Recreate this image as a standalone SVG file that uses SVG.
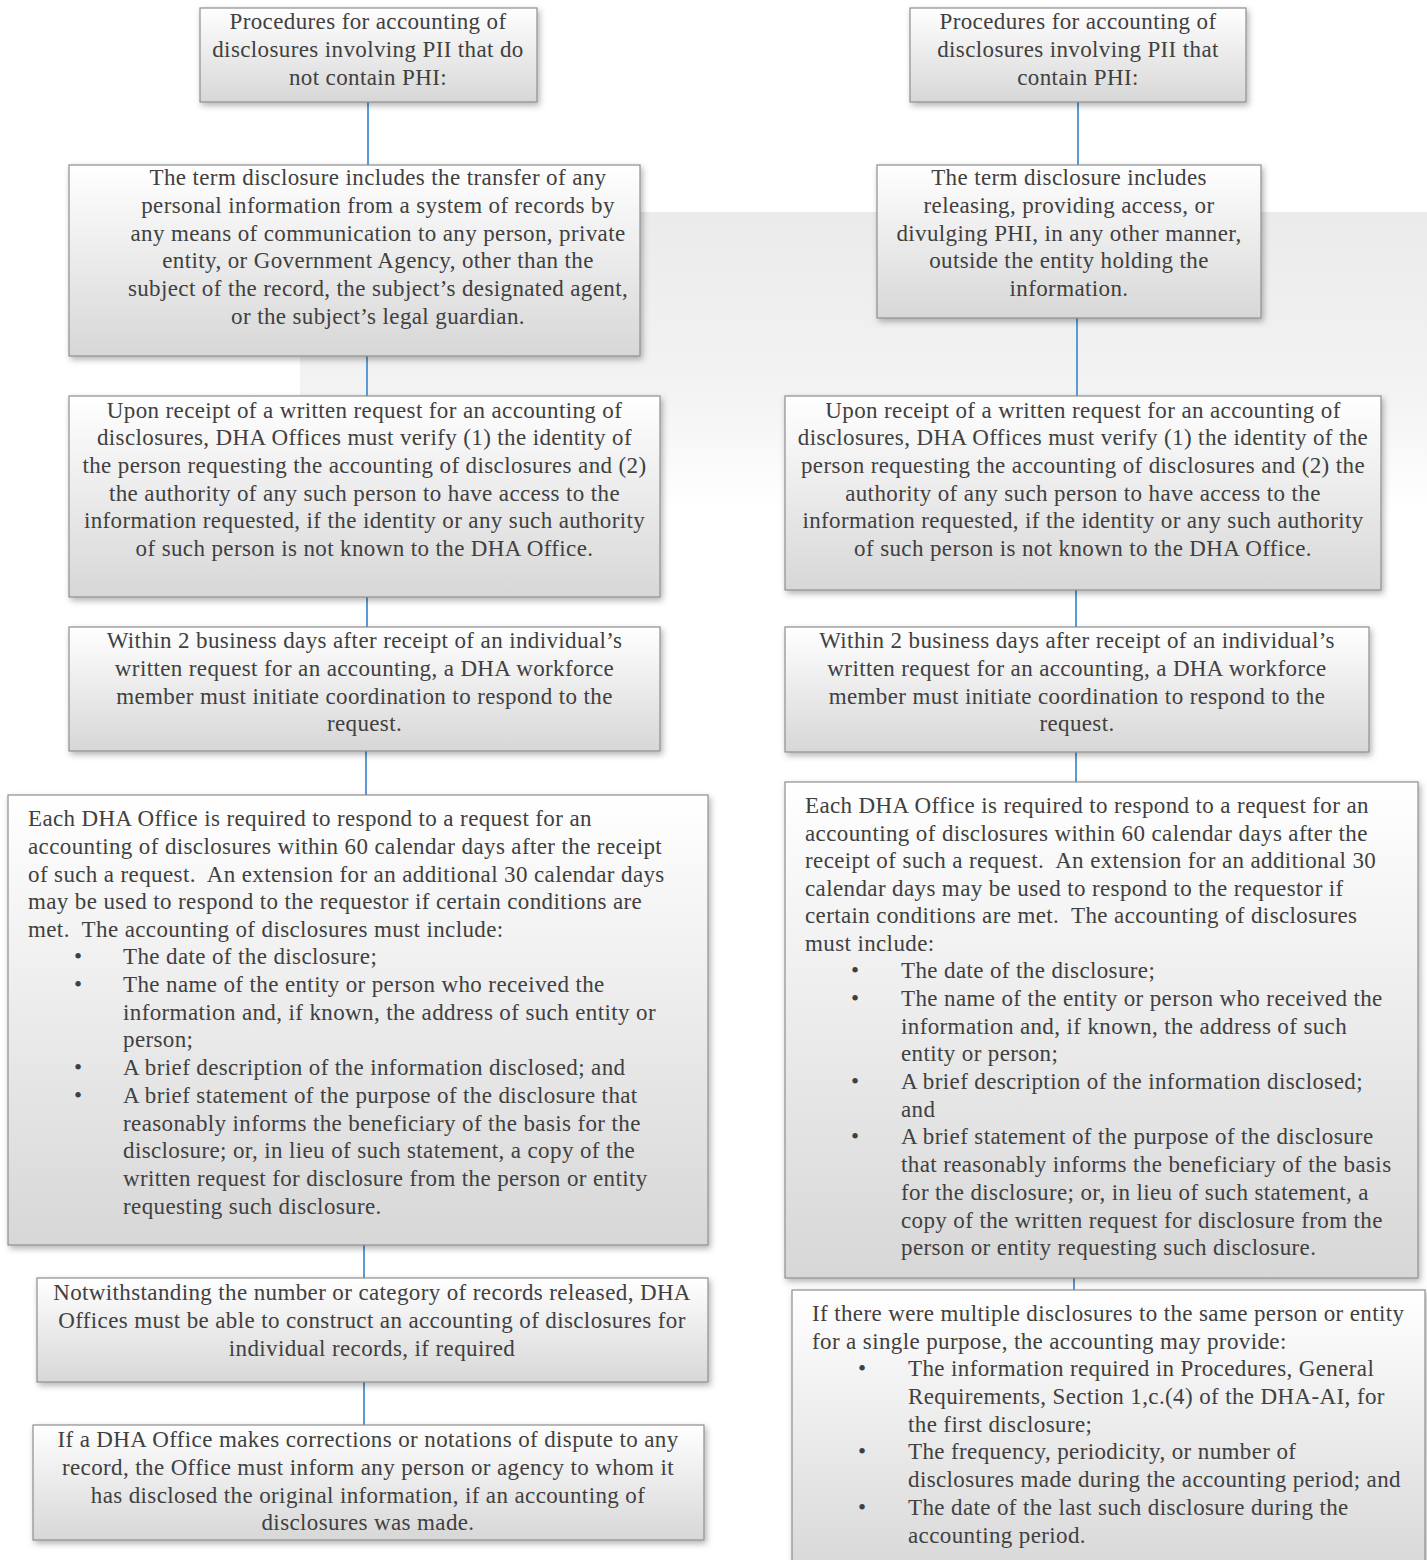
<svg xmlns="http://www.w3.org/2000/svg" width="1427" height="1560" viewBox="0 0 1427 1560">
<style>
.box{fill:url(#g);stroke:#8e8e8e;stroke-width:1.2;filter:url(#sh)}
.t{font-family:"Liberation Serif","Times New Roman",serif;font-size:23px;letter-spacing:0.38px;fill:#404040;white-space:pre}
.c{text-anchor:middle}
.ln{stroke:#5b9bd5;stroke-width:2;fill:none}
</style>
<defs>
<linearGradient id="g" x1="0" y1="0" x2="0" y2="1">
<stop offset="0" stop-color="#ffffff"/>
<stop offset="1" stop-color="#d7d7d7"/>
</linearGradient>
<linearGradient id="bg" x1="0" y1="0" x2="0" y2="1">
<stop offset="0" stop-color="#ebebeb"/>
<stop offset="0.6" stop-color="#f3f3f3"/>
<stop offset="1" stop-color="#ffffff"/>
</linearGradient>
<filter id="sh" x="-5%" y="-5%" width="115%" height="120%">
<feDropShadow dx="2" dy="3" stdDeviation="3" flood-color="#000" flood-opacity="0.3"/>
</filter>
</defs>
<rect x="0" y="0" width="1427" height="1560" fill="#ffffff"/>
<rect x="300" y="212" width="1127" height="300" fill="url(#bg)"/>

<g id="connectors">
<line class="ln" x1="368" y1="102" x2="368" y2="165"/>
<line class="ln" x1="367" y1="356" x2="367" y2="396"/>
<line class="ln" x1="367" y1="597" x2="367" y2="627"/>
<line class="ln" x1="366" y1="751" x2="366" y2="795"/>
<line class="ln" x1="364" y1="1245" x2="364" y2="1278"/>
<line class="ln" x1="364" y1="1382" x2="364" y2="1425"/>
<line class="ln" x1="1078" y1="102" x2="1078" y2="165"/>
<line class="ln" x1="1077" y1="318" x2="1077" y2="396"/>
<line class="ln" x1="1076" y1="590" x2="1076" y2="627"/>
<line class="ln" x1="1076" y1="752" x2="1076" y2="782"/>
<line class="ln" x1="1074" y1="1278" x2="1074" y2="1290"/>
</g>

<g id="L1">
<rect class="box" x="200" y="8" width="337" height="94"/>
<text class="t c" x="368" y="29">Procedures for accounting of</text>
<text class="t c" x="368" y="57">disclosures involving PII that do</text>
<text class="t c" x="368" y="85">not contain PHI:</text>
</g>

<g id="L2">
<rect class="box" x="69" y="165" width="571" height="191"/>
<text class="t c" x="378" y="185">The term disclosure includes the transfer of any</text>
<text class="t c" x="378" y="213">personal information from a system of records by</text>
<text class="t c" x="378" y="241">any means of communication to any person, private</text>
<text class="t c" x="378" y="268">entity, or Government Agency, other than the</text>
<text class="t c" x="378" y="296">subject of the record, the subject’s designated agent,</text>
<text class="t c" x="378" y="324">or the subject’s legal guardian.</text>
</g>

<g id="L3">
<rect class="box" x="69" y="396" width="591" height="201"/>
<text class="t c" x="364.5" y="418">Upon receipt of a written request for an accounting of</text>
<text class="t c" x="364.5" y="445">disclosures, DHA Offices must verify (1) the identity of</text>
<text class="t c" x="364.5" y="473">the person requesting the accounting of disclosures and (2)</text>
<text class="t c" x="364.5" y="501">the authority of any such person to have access to the</text>
<text class="t c" x="364.5" y="528">information requested, if the identity or any such authority</text>
<text class="t c" x="364.5" y="556">of such person is not known to the DHA Office.</text>
</g>

<g id="L4">
<rect class="box" x="69" y="627" width="591" height="124"/>
<text class="t c" x="364.5" y="648">Within 2 business days after receipt of an individual’s</text>
<text class="t c" x="364.5" y="676">written request for an accounting, a DHA workforce</text>
<text class="t c" x="364.5" y="704">member must initiate coordination to respond to the</text>
<text class="t c" x="364.5" y="731">request.</text>
</g>

<g id="L5">
<rect class="box" x="8" y="795" width="700" height="450"/>
<text class="t" x="28" y="826">Each DHA Office is required to respond to a request for an</text>
<text class="t" x="28" y="854">accounting of disclosures within 60 calendar days after the receipt</text>
<text class="t" x="28" y="882">of such a request.  An extension for an additional 30 calendar days</text>
<text class="t" x="28" y="909">may be used to respond to the requestor if certain conditions are</text>
<text class="t" x="28" y="937">met.  The accounting of disclosures must include:</text>
<text class="t" x="74" y="964">•</text>
<text class="t" x="123" y="964">The date of the disclosure;</text>
<text class="t" x="74" y="992">•</text>
<text class="t" x="123" y="992">The name of the entity or person who received the</text>
<text class="t" x="123" y="1020">information and, if known, the address of such entity or</text>
<text class="t" x="123" y="1047">person;</text>
<text class="t" x="74" y="1075">•</text>
<text class="t" x="123" y="1075">A brief description of the information disclosed; and</text>
<text class="t" x="74" y="1103">•</text>
<text class="t" x="123" y="1103">A brief statement of the purpose of the disclosure that</text>
<text class="t" x="123" y="1131">reasonably informs the beneficiary of the basis for the</text>
<text class="t" x="123" y="1158">disclosure; or, in lieu of such statement, a copy of the</text>
<text class="t" x="123" y="1186">written request for disclosure from the person or entity</text>
<text class="t" x="123" y="1214">requesting such disclosure.</text>
</g>

<g id="L6">
<rect class="box" x="37" y="1278" width="671" height="104"/>
<text class="t c" x="372" y="1300">Notwithstanding the number or category of records released, DHA</text>
<text class="t c" x="372" y="1328">Offices must be able to construct an accounting of disclosures for</text>
<text class="t c" x="372" y="1356">individual records, if required</text>
</g>

<g id="L7">
<rect class="box" x="33" y="1425" width="671" height="115"/>
<text class="t c" x="368" y="1447">If a DHA Office makes corrections or notations of dispute to any</text>
<text class="t c" x="368" y="1475">record, the Office must inform any person or agency to whom it</text>
<text class="t c" x="368" y="1503">has disclosed the original information, if an accounting of</text>
<text class="t c" x="368" y="1530">disclosures was made.</text>
</g>

<g id="R1">
<rect class="box" x="910" y="8" width="336" height="94"/>
<text class="t c" x="1078" y="29">Procedures for accounting of</text>
<text class="t c" x="1078" y="57">disclosures involving PII that</text>
<text class="t c" x="1078" y="85">contain PHI:</text>
</g>

<g id="R2">
<rect class="box" x="877" y="165" width="384" height="153"/>
<text class="t c" x="1069" y="185">The term disclosure includes</text>
<text class="t c" x="1069" y="213">releasing, providing access, or</text>
<text class="t c" x="1069" y="241">divulging PHI, in any other manner,</text>
<text class="t c" x="1069" y="268">outside the entity holding the</text>
<text class="t c" x="1069" y="296">information.</text>
</g>

<g id="R3">
<rect class="box" x="785" y="396" width="596" height="194"/>
<text class="t c" x="1083" y="418">Upon receipt of a written request for an accounting of</text>
<text class="t c" x="1083" y="445">disclosures, DHA Offices must verify (1) the identity of the</text>
<text class="t c" x="1083" y="473">person requesting the accounting of disclosures and (2) the</text>
<text class="t c" x="1083" y="501">authority of any such person to have access to the</text>
<text class="t c" x="1083" y="528">information requested, if the identity or any such authority</text>
<text class="t c" x="1083" y="556">of such person is not known to the DHA Office.</text>
</g>

<g id="R4">
<rect class="box" x="785" y="627" width="584" height="125"/>
<text class="t c" x="1077" y="648">Within 2 business days after receipt of an individual’s</text>
<text class="t c" x="1077" y="676">written request for an accounting, a DHA workforce</text>
<text class="t c" x="1077" y="704">member must initiate coordination to respond to the</text>
<text class="t c" x="1077" y="731">request.</text>
</g>

<g id="R5">
<rect class="box" x="785" y="782" width="633" height="496"/>
<text class="t" x="805" y="813">Each DHA Office is required to respond to a request for an</text>
<text class="t" x="805" y="841">accounting of disclosures within 60 calendar days after the</text>
<text class="t" x="805" y="868">receipt of such a request.  An extension for an additional 30</text>
<text class="t" x="805" y="896">calendar days may be used to respond to the requestor if</text>
<text class="t" x="805" y="923">certain conditions are met.  The accounting of disclosures</text>
<text class="t" x="805" y="951">must include:</text>
<text class="t" x="851" y="978">•</text>
<text class="t" x="901" y="978">The date of the disclosure;</text>
<text class="t" x="851" y="1006">•</text>
<text class="t" x="901" y="1006">The name of the entity or person who received the</text>
<text class="t" x="901" y="1034">information and, if known, the address of such</text>
<text class="t" x="901" y="1061">entity or person;</text>
<text class="t" x="851" y="1089">•</text>
<text class="t" x="901" y="1089">A brief description of the information disclosed;</text>
<text class="t" x="901" y="1117">and</text>
<text class="t" x="851" y="1144">•</text>
<text class="t" x="901" y="1144">A brief statement of the purpose of the disclosure</text>
<text class="t" x="901" y="1172">that reasonably informs the beneficiary of the basis</text>
<text class="t" x="901" y="1200">for the disclosure; or, in lieu of such statement, a</text>
<text class="t" x="901" y="1228">copy of the written request for disclosure from the</text>
<text class="t" x="901" y="1255">person or entity requesting such disclosure.</text>
</g>

<g id="R6">
<rect class="box" x="792" y="1290" width="633" height="290"/>
<text class="t" x="812" y="1321">If there were multiple disclosures to the same person or entity</text>
<text class="t" x="812" y="1349">for a single purpose, the accounting may provide:</text>
<text class="t" x="858" y="1376">•</text>
<text class="t" x="908" y="1376">The information required in Procedures, General</text>
<text class="t" x="908" y="1404">Requirements, Section 1,c.(4) of the DHA-AI, for</text>
<text class="t" x="908" y="1432">the first disclosure;</text>
<text class="t" x="858" y="1459">•</text>
<text class="t" x="908" y="1459">The frequency, periodicity, or number of</text>
<text class="t" x="908" y="1487">disclosures made during the accounting period; and</text>
<text class="t" x="858" y="1515">•</text>
<text class="t" x="908" y="1515">The date of the last such disclosure during the</text>
<text class="t" x="908" y="1543">accounting period.</text>
</g>
</svg>
